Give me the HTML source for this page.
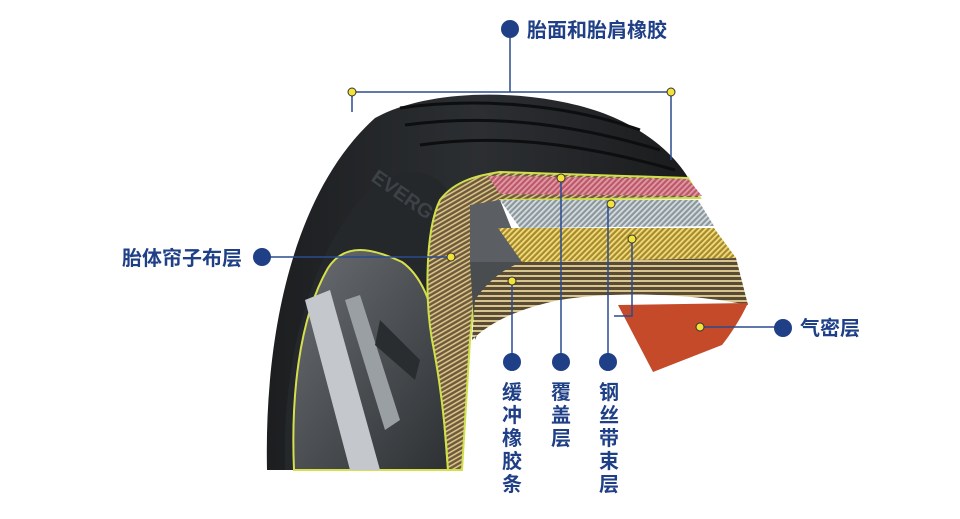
<!DOCTYPE html>
<html><head><meta charset="utf-8"><style>
html,body{margin:0;padding:0;background:#fff;}
svg{display:block;}
text{font-family:"Liberation Sans","Noto Sans CJK SC",sans-serif;font-weight:bold;fill:#1f3f86;}
</style></head><body>
<svg width="960" height="519" viewBox="0 0 960 519" xmlns="http://www.w3.org/2000/svg">
<defs>
<pattern id="st" width="4" height="4" patternUnits="userSpaceOnUse" patternTransform="rotate(60)">
<rect width="4" height="4" fill="#6e5a3a"/><rect width="1.6" height="4" fill="#d9c48a"/></pattern>
<pattern id="sy" width="4" height="4" patternUnits="userSpaceOnUse" patternTransform="rotate(45)">
<rect width="4" height="4" fill="#a88a2e"/><rect width="1.8" height="4" fill="#f0dc7a"/></pattern>
<pattern id="sg" width="4" height="4" patternUnits="userSpaceOnUse" patternTransform="rotate(45)">
<rect width="4" height="4" fill="#8c979c"/><rect width="1.8" height="4" fill="#d6dde0"/></pattern>
<pattern id="sp" width="4" height="4" patternUnits="userSpaceOnUse" patternTransform="rotate(45)">
<rect width="4" height="4" fill="#b9596a"/><rect width="1.8" height="4" fill="#e49aa6"/></pattern>
<pattern id="sh" width="5" height="5" patternUnits="userSpaceOnUse">
<rect width="5" height="5" fill="#5a4c34"/><rect width="5" height="2" fill="#d8c58e"/></pattern>
<linearGradient id="tg" x1="0" y1="0" x2="1" y2="0"><stop offset="0" stop-color="#1c1e20"/><stop offset="0.5" stop-color="#2c2f32"/><stop offset="1" stop-color="#1a1b1d"/></linearGradient>
<linearGradient id="wg" x1="0" y1="0" x2="1" y2="1"><stop offset="0" stop-color="#6a6e72"/><stop offset="1" stop-color="#2e3134"/></linearGradient>
</defs>
<path d="M267,470 C264,330 295,190 375,118 C430,88 530,88 600,112 C650,130 680,160 692,185 L470,190 C440,220 425,280 440,330 C450,380 460,430 462,470 Z" fill="url(#tg)"/>
<g stroke="#0d0e0f" stroke-width="3" fill="none">
<path d="M400,108 C470,98 560,102 640,130"/><path d="M405,125 C480,115 560,120 660,150"/><path d="M420,145 C490,135 570,140 675,170"/>
</g>
<path d="M285,470 C282,360 310,260 360,200 C395,165 430,160 455,200 C440,240 430,290 440,330 C450,380 458,430 460,470 Z" fill="#25282b"/>
<text x="370" y="180" style="fill:#3d4246;font-size:20px" transform="rotate(35 370 180)">EVERGY</text>
<path d="M294,470 C291,400 298,320 328,268 C345,242 372,248 402,262 C422,276 430,302 437,328 L448,470 Z" fill="url(#wg)" stroke="#d6e04c" stroke-width="2"/>
<path d="M305,300 L330,290 L380,470 L350,470 Z" fill="#c4c8cc"/>
<path d="M345,300 L360,295 L400,420 L385,430 Z" fill="#9a9fa3"/>
<path d="M380,320 L420,360 L415,380 L375,345 Z" fill="#2a2d30"/>
<path d="M440,200 C455,180 480,175 500,172 L688,178 L700,198 L500,200 C480,230 475,290 470,340 L462,470 L448,470 C445,420 440,380 432,340 C425,300 425,230 440,200 Z" fill="url(#st)" stroke="#cfe04a" stroke-width="2"/>
<path d="M470,205 L500,200 L525,262 L470,262 Z" fill="#5b5f63"/>
<path d="M470,262 L560,262 C520,275 490,300 475,340 Z" fill="#4a4d50"/>
<path d="M488,176 L688,179 L702,196 L500,194 Z" fill="url(#sp)"/>
<path d="M500,200 L698,200 L714,226 L520,228 Z" fill="url(#sg)"/>
<path d="M498,228 L714,228 L736,258 L522,262 Z" fill="url(#sy)"/>
<path d="M522,262 L736,258 L748,305 C700,295 620,290 560,300 C520,308 490,322 472,340 L475,300 C485,285 500,270 522,262 Z" fill="url(#sh)"/>
<path d="M618,305 L748,303 C740,320 730,335 722,345 L653,372 Z" fill="#c44a2a"/>
<g stroke="#2b4a8e" stroke-width="1.5" fill="none">
<path d="M510,38 L510,92 M352,92 L671,92 M352,92 L352,112 M671,92 L671,160"/>
<path d="M262,257 L451,257"/>
<path d="M700,327 L783,327"/>
<path d="M512,281 L512,361 M561,178 L561,361 M608,204 L608,361 M632,240 L632,316 L614,316"/>
</g>
<g fill="#f2e23a" stroke="#333" stroke-width="1">
<circle cx="352" cy="92" r="4"/><circle cx="671" cy="92" r="4"/><circle cx="451" cy="257" r="4"/>
<circle cx="561" cy="178" r="4"/><circle cx="611" cy="204" r="4"/><circle cx="632" cy="239" r="4"/>
<circle cx="512" cy="281" r="4"/><circle cx="700" cy="327" r="4"/>
</g>
<g fill="#1f3f86">
<circle cx="510" cy="29" r="9"/><circle cx="262" cy="257" r="9"/><circle cx="783" cy="328" r="9"/>
<circle cx="512" cy="362" r="9"/><circle cx="561" cy="362" r="9"/><circle cx="608" cy="362" r="9"/>
</g>
<text x="527" y="37" font-size="20">胎面和胎肩橡胶</text>
<text x="122" y="265" font-size="20">胎体帘子布层</text>
<text x="800" y="335" font-size="20">气密层</text>
<g font-size="20" text-anchor="middle">
<text x="512" y="399">缓</text><text x="512" y="422">冲</text><text x="512" y="445">橡</text><text x="512" y="468">胶</text><text x="512" y="491">条</text>
<text x="561" y="399">覆</text><text x="561" y="422">盖</text><text x="561" y="445">层</text>
<text x="609" y="399">钢</text><text x="609" y="422">丝</text><text x="609" y="445">带</text><text x="609" y="468">束</text><text x="609" y="491">层</text>
</g>
</svg>
</body></html>
